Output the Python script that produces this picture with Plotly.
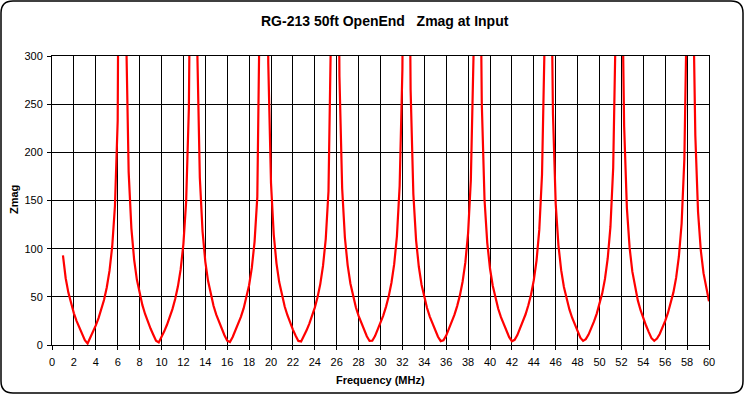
import plotly.graph_objects as go

# ---------------- data ----------------
freq_mhz = [
    1.00, 1.25, 1.50, 1.75, 2.00, 2.25, 2.50, 2.75, 3.00, 3.25, 3.50, 3.75, 4.00, 4.25, 4.50, 4.75,
    5.00, 5.25, 5.50, 5.75, 6.00, 6.25, 6.50, 6.75, 7.00, 7.25, 7.50, 7.75, 8.00, 8.25, 8.50, 8.75,
    9.00, 9.25, 9.50, 9.75, 10.00, 10.25, 10.50, 10.75, 11.00, 11.25, 11.50, 11.75, 12.00, 12.25, 12.50, 12.75,
    13.00, 13.25, 13.50, 13.75, 14.00, 14.25, 14.50, 14.75, 15.00, 15.25, 15.50, 15.75, 16.00, 16.25, 16.50, 16.75,
    17.00, 17.25, 17.50, 17.75, 18.00, 18.25, 18.50, 18.75, 19.00, 19.25, 19.50, 19.75, 20.00, 20.25, 20.50, 20.75,
    21.00, 21.25, 21.50, 21.75, 22.00, 22.25, 22.50, 22.75, 23.00, 23.25, 23.50, 23.75, 24.00, 24.25, 24.50, 24.75,
    25.00, 25.25, 25.50, 25.75, 26.00, 26.25, 26.50, 26.75, 27.00, 27.25, 27.50, 27.75, 28.00, 28.25, 28.50, 28.75,
    29.00, 29.25, 29.50, 29.75, 30.00, 30.25, 30.50, 30.75, 31.00, 31.25, 31.50, 31.75, 32.00, 32.25, 32.50, 32.75,
    33.00, 33.25, 33.50, 33.75, 34.00, 34.25, 34.50, 34.75, 35.00, 35.25, 35.50, 35.75, 36.00, 36.25, 36.50, 36.75,
    37.00, 37.25, 37.50, 37.75, 38.00, 38.25, 38.50, 38.75, 39.00, 39.25, 39.50, 39.75, 40.00, 40.25, 40.50, 40.75,
    41.00, 41.25, 41.50, 41.75, 42.00, 42.25, 42.50, 42.75, 43.00, 43.25, 43.50, 43.75, 44.00, 44.25, 44.50, 44.75,
    45.00, 45.25, 45.50, 45.75, 46.00, 46.25, 46.50, 46.75, 47.00, 47.25, 47.50, 47.75, 48.00, 48.25, 48.50, 48.75,
    49.00, 49.25, 49.50, 49.75, 50.00, 50.25, 50.50, 50.75, 51.00, 51.25, 51.50, 51.75, 52.00, 52.25, 52.50, 52.75,
    53.00, 53.25, 53.50, 53.75, 54.00, 54.25, 54.50, 54.75, 55.00, 55.25, 55.50, 55.75, 56.00, 56.25, 56.50, 56.75,
    57.00, 57.25, 57.50, 57.75, 58.00, 58.25, 58.50, 58.75, 59.00, 59.25, 59.50, 59.75, 60.00,
]

zmag = [
    93.0, 69.3, 54.1, 42.4, 32.9, 24.8, 17.7, 11.1, 4.9, 1.5, 7.3, 13.7, 20.4, 27.9, 36.5, 46.7,
    59.7, 76.9, 102.3, 144.5, 233, 543, 1400, 338, 179.7, 121.1, 88.7, 67.9, 53.1, 41.6, 32.2, 24.2,
    17.1, 10.6, 4.4, 2.6, 7.8, 14.2, 21.0, 28.6, 37.2, 47.7, 60.9, 78.5, 104.8, 148.7, 246, 570,
    1020, 316, 173.9, 117.8, 86.6, 66.6, 52.0, 40.8, 31.5, 23.6, 16.6, 10.1, 4.5, 3.1, 8.3, 14.7,
    21.6, 29.2, 38.0, 48.6, 62.0, 80.3, 107.4, 153.8, 258, 619, 836, 293, 168.2, 114.6, 84.8, 65.3,
    51.0, 40.0, 30.9, 23.0, 16.0, 9.6, 4.2, 3.7, 8.8, 15.2, 22.2, 29.9, 38.8, 49.6, 63.2, 82.1,
    110.0, 159.6, 272, 670, 708, 279, 162.4, 111.3, 83.0, 63.9, 50.1, 39.2, 30.2, 22.5, 15.5, 9.1,
    4.2, 4.4, 9.3, 15.8, 22.7, 30.5, 39.6, 50.5, 64.6, 83.9, 112.9, 165.3, 286, 716, 614, 265,
    156.7, 108.7, 81.2, 62.6, 49.1, 38.4, 29.5, 21.9, 15.0, 8.6, 4.0, 4.9, 9.8, 16.3, 23.3, 31.2,
    40.4, 51.5, 65.9, 85.7, 116.2, 171.0, 303, 754, 541, 251, 150.8, 106.1, 79.4, 61.5, 48.2, 37.6,
    28.9, 21.3, 14.5, 8.1, 3.9, 5.4, 10.3, 16.9, 23.9, 31.9, 41.2, 52.5, 67.3, 87.6, 119.5, 176.8,
    322, 774, 485, 240, 146.6, 103.5, 77.7, 60.3, 47.2, 36.9, 28.3, 20.7, 13.9, 7.6, 4.3, 6.1,
    10.8, 17.4, 24.5, 32.6, 42.0, 53.6, 68.6, 89.8, 122.8, 184, 344, 773, 438, 227, 142.4, 101.0,
    76.1, 59.1, 46.3, 36.1, 27.6, 20.2, 13.4, 7.1, 4.3, 6.6, 11.4, 17.9, 25.1, 33.3, 42.8, 54.6,
    69.9, 91.9, 126.1, 193, 368, 750, 400, 218, 138.1, 98.4, 74.6, 57.9, 45.4,
]

x_tick_vals = [0, 2, 4, 6, 8, 10, 12, 14, 16, 18, 20, 22, 24, 26, 28, 30,
               32, 34, 36, 38, 40, 42, 44, 46, 48, 50, 52, 54, 56, 58, 60]
y_tick_vals = [0, 50, 100, 150, 200, 250, 300]

chart_title = "RG-213 50ft OpenEnd\u00a0\u00a0\u00a0Zmag at Input"
x_title = "Frequency (MHz)"
y_title = "Zmag"

# ---------------- layout geometry ----------------
W, H = 745, 395
ML, MR, MT, MB = 52, 36, 56, 50
PW, PH = W - ML - MR, H - MT - MB
FONT = "Arial, 'Liberation Sans', sans-serif"


def px(xp):
    return (xp - ML) / PW


def py(yp):
    return (H - MB - yp) / PH


fig = go.Figure()
fig.add_trace(go.Scatter(
    x=freq_mhz, y=zmag, mode="lines",
    line=dict(color="#FF0000", width=2.2),
    hoverinfo="x+y", showlegend=False,
))

axis_common = dict(
    showgrid=True, gridcolor="#000000", gridwidth=1,
    showline=True, linecolor="#000000", linewidth=1, mirror=True,
    ticks="outside", ticklen=4, tickcolor="#000000", tickwidth=1,
    zeroline=False, tickfont=dict(family=FONT, size=11, color="#000000"),
)

fig.update_layout(
    width=W, height=H,
    margin=dict(l=ML, r=MR, t=MT, b=MB, pad=0),
    paper_bgcolor="#FFFFFF", plot_bgcolor="#FFFFFF",
    font=dict(family=FONT, color="#000000"),
    xaxis=dict(range=[0, 60], tickvals=x_tick_vals, ticklabelstandoff=3, **axis_common),
    yaxis=dict(range=[0, 300], tickvals=y_tick_vals, ticklabelstandoff=2, **axis_common),
    showlegend=False,
)

# titles as annotations for exact placement
fig.add_annotation(text="<b>" + chart_title + "</b>", xref="paper", yref="paper",
                   x=px(385), y=py(21), showarrow=False,
                   font=dict(family=FONT, size=14, color="#000000"),
                   xanchor="center", yanchor="middle")
fig.add_annotation(text="<b>" + x_title + "</b>", xref="paper", yref="paper",
                   x=px(380), y=py(380), showarrow=False,
                   font=dict(family=FONT, size=11, color="#000000"),
                   xanchor="center", yanchor="middle")
fig.add_annotation(text="<b>" + y_title + "</b>", xref="paper", yref="paper",
                   x=px(14), y=py(200), showarrow=False, textangle=-90,
                   font=dict(family=FONT, size=11, color="#000000"),
                   xanchor="center", yanchor="middle")

# rounded chart-area border
x0, y0, x1, y1, r = 1, 1, 743, 393, 12
path = (
    f"M {px(x0 + r)},{py(y0)} L {px(x1 - r)},{py(y0)} Q {px(x1)},{py(y0)} {px(x1)},{py(y0 + r)} "
    f"L {px(x1)},{py(y1 - r)} Q {px(x1)},{py(y1)} {px(x1 - r)},{py(y1)} "
    f"L {px(x0 + r)},{py(y1)} Q {px(x0)},{py(y1)} {px(x0)},{py(y1 - r)} "
    f"L {px(x0)},{py(y0 + r)} Q {px(x0)},{py(y0)} {px(x0 + r)},{py(y0)} Z"
)
fig.add_shape(type="path", path=path, xref="paper", yref="paper",
              line=dict(color="#000000", width=1.5), fillcolor="rgba(0,0,0,0)", layer="above")

fig.write_html(
    "out.html",
    config={"displayModeBar": False},
    post_script="document.body.style.margin='0';document.body.style.overflow='hidden';",
)
